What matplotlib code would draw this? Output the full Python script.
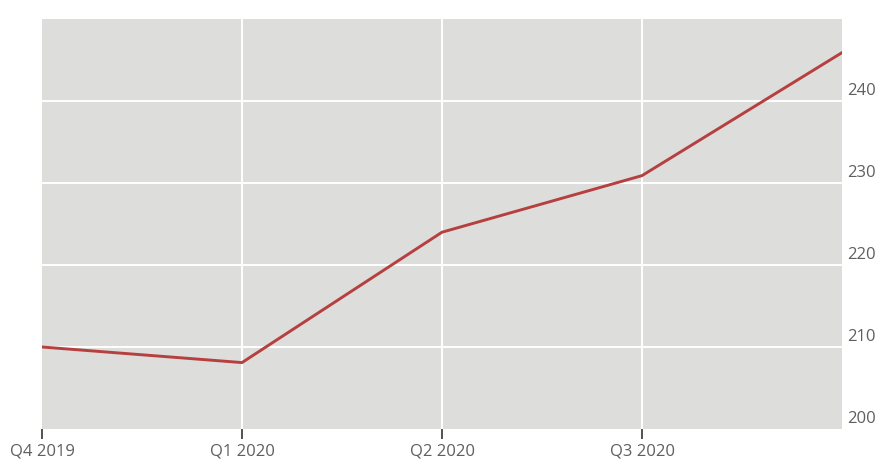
import matplotlib.pyplot as plt
import matplotlib.transforms as mtransforms

# Quarterly series
quarters = ["Q4 2019", "Q1 2020", "Q2 2020", "Q3 2020", "Q4 2020"]
values = [210.0, 208.1, 224.0, 230.9, 245.9]
tick_labels = ["Q4 2019", "Q1 2020", "Q2 2020", "Q3 2020"]
y_ticks = [200, 210, 220, 230, 240]

BG = "#dddddb"
LINE = "#b5403f"
TEXT = "#5f5f5f"

plt.rcParams["font.family"] = ["Open Sans", "DejaVu Sans"]

fig = plt.figure(figsize=(8.8, 4.6), dpi=100)
ax = fig.add_axes([42 / 880, 30 / 460, 800 / 880, 410 / 460])
ax.set_facecolor(BG)

x = list(range(len(quarters)))
ax.plot(x, values, color=LINE, linewidth=2.1, solid_joinstyle="round", zorder=3)

ax.set_xlim(0, len(quarters) - 1)
ax.set_ylim(200, 250)

# white grid lines
for yv in y_ticks[1:]:
    ax.axhline(yv, color="white", linewidth=1.4, zorder=1)
for xv in x[1:-1]:
    ax.axvline(xv, color="white", linewidth=1.4, zorder=1)

for side in ["top", "right", "bottom", "left"]:
    ax.spines[side].set_visible(False)

# x ticks below the panel
ax.set_xticks(x[: len(tick_labels)])
ax.set_xticklabels(tick_labels)
ax.tick_params(axis="x", length=7.5, width=1.3, color="#444444", pad=2.5,
               labelsize=12, labelcolor=TEXT)

# y labels on the right, sitting just above each line
ax.set_yticks([])
offset = mtransforms.ScaledTranslation(4 / 72, 2.5 / 72, fig.dpi_scale_trans)
for yv in y_ticks:
    ax.text(1.0, yv, str(yv), transform=ax.get_yaxis_transform() + offset,
            ha="left", va="bottom", fontsize=12, color=TEXT)

fig.savefig("out.png", dpi=100, facecolor="white")
